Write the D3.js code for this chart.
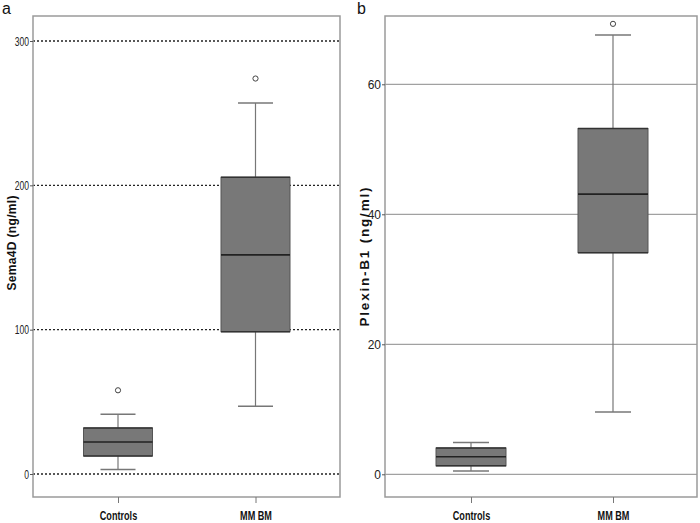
<!DOCTYPE html>
<html><head><meta charset="utf-8">
<script src="https://cdn.jsdelivr.net/npm/d3@7"></script>
<style>body{margin:0;background:#fff}svg{display:block}</style>
</head><body>
<svg id="c" width="700" height="523"></svg>
<script>
const categories = ["Controls", "MM BM"];
// panel a: Sema4D (ng/ml)
const semaLow    = [3.2, 47];
const semaQ1     = [12.5, 98.6];
const semaMedian = [22.2, 151.8];
const semaQ3     = [31.9, 205.6];
const semaHigh   = [41.4, 257];
const semaOutliers = [[58], [274]];
const semaTicks  = [0, 100, 200, 300];
// panel b: Plexin-B1 (ng/ml)
const plexLow    = [0.5, 9.6];
const plexQ1     = [1.3, 34.1];
const plexMedian = [2.7, 43.1];
const plexQ3     = [4.05, 53.2];
const plexHigh   = [4.9, 67.6];
const plexOutliers = [[], [69.3]];
const plexTicks  = [0, 20, 40, 60];

const svg = d3.select("#c");

function condense(sel, f){
  sel.each(function(){
    const w = this.getComputedTextLength();
    d3.select(this).attr("textLength", w * f).attr("lengthAdjust", "spacingAndGlyphs");
  });
}

function panel(o){
  const g = svg.append("g");
  const x = d3.scalePoint().domain(categories).range([o.cx0, o.cx1]);
  const y = d3.scaleLinear().domain(o.domain).range([o.bottom, o.top]);
  // gridlines
  g.selectAll("line.grid").data(o.ticks).join("line")
    .attr("x1", o.left).attr("x2", o.right)
    .attr("y1", d => y(d)).attr("y2", d => y(d))
    .attr("stroke", o.gridColor).attr("stroke-width", o.gridW)
    .attr("stroke-dasharray", o.dash);
  // frame
  g.append("rect").attr("x", o.left).attr("y", o.frameTop)
    .attr("width", o.right - o.left).attr("height", o.frameBottom - o.frameTop)
    .attr("fill", "none").attr("stroke", "#9a9a9a").attr("stroke-width", 1.5);
  // y axis
  const ax = g.append("g").attr("transform", `translate(${o.left},0)`)
    .call(d3.axisLeft(y).tickValues(o.ticks).tickSize(3).tickPadding(1));
  ax.select(".domain").remove();
  ax.selectAll(".tick line").attr("stroke", "#555");
  const tt = ax.selectAll("text").attr("font-family", "'Liberation Sans',Arial,sans-serif")
    .attr("font-size", o.tickSize).attr("fill", "#222");
  if (o.tickCondense < 1) condense(tt, o.tickCondense);
  // x axis
  const xa = g.append("g").attr("transform", `translate(0,${o.frameBottom})`)
    .call(d3.axisBottom(x).tickSize(6).tickPadding(8));
  xa.select(".domain").remove();
  xa.selectAll(".tick line").attr("stroke", "#777");
  const xt = xa.selectAll("text").attr("font-family", "'Liberation Sans',Arial,sans-serif")
    .attr("font-weight", "bold").attr("font-size", 13).attr("fill", "#111");
  condense(xt, 0.7);
  // title
  g.append("text").attr("transform", `translate(${o.titleX},${o.titleY}) rotate(-90)`)
    .attr("text-anchor", "middle").attr("font-family", "'Liberation Sans', Arial, sans-serif")
    .attr("font-weight", "bold").attr("font-size", o.titleSize)
    .attr("textLength", o.titleLen).attr("lengthAdjust", "spacing")
    .attr("fill", "#111").text(o.title);
  g.append("text").attr("x", o.letterX).attr("y", 14).attr("font-family", "'Liberation Sans', Arial, sans-serif")
    .attr("font-size", 16).attr("fill", "#111").text(o.letter);
  // boxes
  const bw = o.boxW, cw = o.capW;
  categories.forEach((c, i) => {
    const cx = x(c);
    const b = g.append("g");
    b.append("line").attr("x1", cx).attr("x2", cx).attr("y1", y(o.low[i])).attr("y2", y(o.high[i]))
      .attr("stroke", "#777").attr("stroke-width", 1.2);
    [o.low[i], o.high[i]].forEach(v => b.append("line")
      .attr("x1", cx - cw/2).attr("x2", cx + cw/2).attr("y1", y(v)).attr("y2", y(v))
      .attr("stroke", "#777").attr("stroke-width", 1.5));
    b.append("rect").attr("x", cx - bw/2).attr("y", y(o.q3[i]))
      .attr("width", bw).attr("height", y(o.q1[i]) - y(o.q3[i]))
      .attr("fill", "#787878").attr("stroke", "#555").attr("stroke-width", 1);
    b.append("line").attr("x1", cx - bw/2).attr("x2", cx + bw/2)
      .attr("y1", y(o.q3[i])).attr("y2", y(o.q3[i])).attr("stroke", "#333").attr("stroke-width", 1.5);
    b.append("line").attr("x1", cx - bw/2).attr("x2", cx + bw/2)
      .attr("y1", y(o.q1[i])).attr("y2", y(o.q1[i])).attr("stroke", "#333").attr("stroke-width", 1.5);
    b.append("line").attr("x1", cx - bw/2).attr("x2", cx + bw/2)
      .attr("y1", y(o.med[i])).attr("y2", y(o.med[i])).attr("stroke", "#222").attr("stroke-width", 1.6);
    b.selectAll("circle").data(o.out[i]).join("circle")
      .attr("cx", cx).attr("cy", d => y(d)).attr("r", 2.6)
      .attr("fill", "#fff").attr("stroke", "#444").attr("stroke-width", 1);
  });
}

panel({
  left: 33, right: 340, frameTop: 16, frameBottom: 497,
  top: 41, bottom: 474, domain: [0, 300], ticks: semaTicks,
  cx0: 118, cx1: 255.5, boxW: 69, capW: 35,
  low: semaLow, q1: semaQ1, med: semaMedian, q3: semaQ3, high: semaHigh, out: semaOutliers,
  gridColor: "#222", gridW: 1.3, dash: "2,2", tickSize: 13, tickCondense: 0.66,
  title: "Sema4D (ng/ml)", titleX: 16, titleY: 243, titleSize: 12, titleLen: 95,
  letter: "a", letterX: 2
});
panel({
  left: 385, right: 697, frameTop: 16, frameBottom: 497,
  top: 84.3, bottom: 474.3, domain: [0, 60], ticks: plexTicks,
  cx0: 471, cx1: 613, boxW: 70, capW: 36,
  low: plexLow, q1: plexQ1, med: plexMedian, q3: plexQ3, high: plexHigh, out: plexOutliers,
  gridColor: "#8a8a8a", gridW: 1, dash: null, tickSize: 12, tickCondense: 1,
  title: "Plexin-B1 (ng/ml)", titleX: 369, titleY: 257, titleSize: 13.5, titleLen: 139,
  letter: "b", letterX: 357
});
</script>
</body></html>
